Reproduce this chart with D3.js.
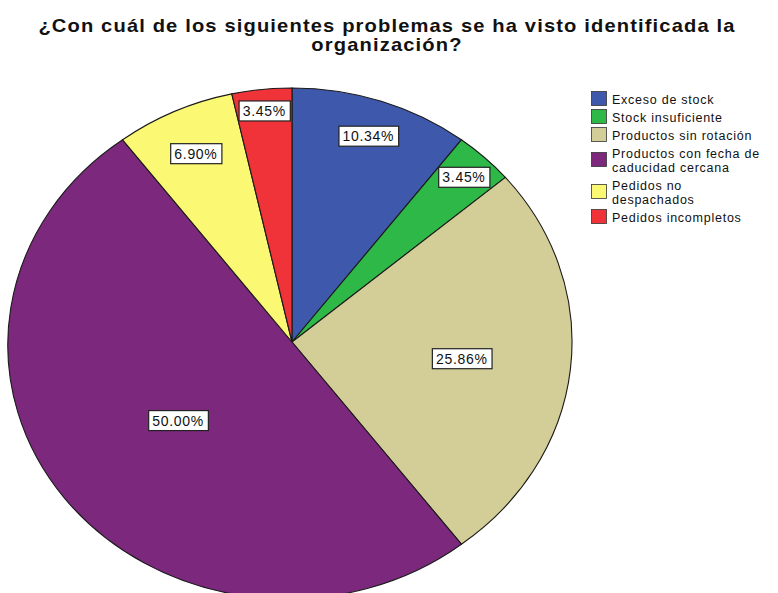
<!DOCTYPE html>
<html>
<head>
<meta charset="utf-8">
<script src="https://cdn.jsdelivr.net/npm/d3@7"></script>
<style>
  html, body { margin: 0; padding: 0; background: #fff; }
  svg { display: block; font-family: Arial, "Liberation Sans", sans-serif; }
</style>
</head>
<body>
<svg id="chart" width="778" height="593"></svg>
<script>
// ---- data ----
const titleLines = ["¿Con cuál de los siguientes problemas se ha visto identificada la", "organización?"];
const categories = ["Exceso de stock", "Stock insuficiente", "Productos sin rotación", "Productos con fecha de caducidad cercana", "Pedidos no despachados", "Pedidos incompletos"];
const legendLines = [["Exceso de stock"], ["Stock insuficiente"], ["Productos sin rotación"], ["Productos con fecha de", "caducidad cercana"], ["Pedidos no", "despachados"], ["Pedidos incompletos"]];
const values = [10.34, 3.45, 25.86, 50.00, 6.90, 3.45];
const valueLabels = ["10.34%", "3.45%", "25.86%", "50.00%", "6.90%", "3.45%"];
const colors = ["#3e58ac", "#2eb848", "#d3ce97", "#7c287d", "#fbf873", "#ef3338"];

// ---- layout ----
const labelRadius = [0.855, 0.893, 0.61, 0.511, 0.817, 0.915];
const cx = 292, cy = 342, rx = 280, ry = 254;

const svg = d3.select("#chart");

// title
const tg = svg.append("g").attr("transform", "translate(387,0) scale(1.15,1)");
titleLines.forEach((ln, i) => {
  tg.append("text")
    .attr("text-anchor", "middle")
    .attr("font-size", 17.5).attr("font-weight", "bold").attr("letter-spacing", 1.0).attr("fill", "#111")
    .attr("x", 0).attr("y", 32 + i * 19.5)
    .text(ln);
});

// pie
const pie = d3.pie().sort(null).value(d => d)(values);
const arc = d3.arc().innerRadius(0).outerRadius(1);

const g = svg.append("g").attr("transform", `translate(${cx},${cy}) scale(${rx},${ry})`);
g.selectAll("path").data(pie).join("path")
  .attr("d", arc)
  .attr("fill", (d, i) => colors[i])
  .attr("stroke", "#1a1a1a")
  .attr("stroke-width", 1.1)
  .attr("vector-effect", "non-scaling-stroke");

// labels
const lg = svg.append("g");
pie.forEach((d, i) => {
  const a = (d.startAngle + d.endAngle) / 2;
  const x = cx + Math.sin(a) * labelRadius[i] * rx;
  const y = cy - Math.cos(a) * labelRadius[i] * ry;
  const grp = lg.append("g").attr("transform", `translate(${x},${y})`);
  const rect = grp.append("rect");
  const t = grp.append("text")
    .attr("text-anchor", "middle").attr("dy", "0.36em")
    .attr("font-size", 14).attr("letter-spacing", 0.7).attr("fill", "#111")
    .text(valueLabels[i]);
  const w = t.node().getComputedTextLength() + 8;
  rect.attr("x", -w / 2 + 0.4).attr("y", -10).attr("width", w).attr("height", 20)
    .attr("fill", "#fff").attr("stroke", "#222").attr("stroke-width", 1.2);
});

// legend
const leg = svg.append("g");
let yPos = 91;
legendLines.forEach((lines, i) => {
  const h = lines.length === 1 ? 18 : 32;
  const sy = yPos + (h - 18) / 2;
  leg.append("rect")
    .attr("x", 591.5).attr("y", sy + 0.5).attr("width", 15).attr("height", 14)
    .attr("fill", colors[i]).attr("stroke", "#333").attr("stroke-width", 0.8);
  lines.forEach((ln, j) => {
    leg.append("text").attr("font-size", 12.5).attr("letter-spacing", 0.75).attr("fill", "#111")
      .attr("x", 612).attr("y", yPos + 12.5 + j * 14.2).text(ln);
  });
  yPos += h;
});
</script>
</body>
</html>
